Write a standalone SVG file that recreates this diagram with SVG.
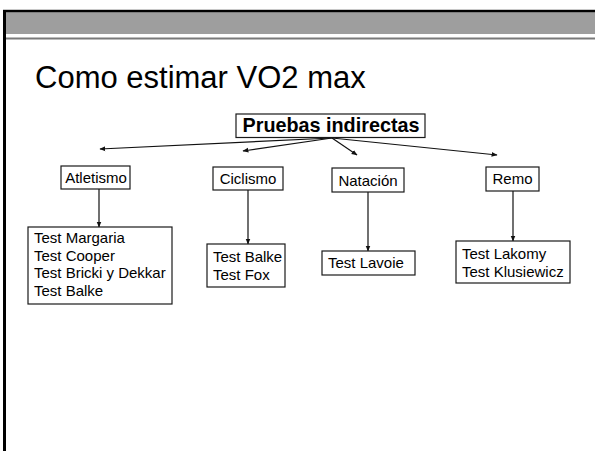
<svg xmlns="http://www.w3.org/2000/svg" width="595" height="451" viewBox="0 0 595 451">
  <style>
    text { font-family: "Liberation Sans", Arial, sans-serif; fill: #000; }
    .box { fill: #fff; stroke: #1a1a1a; stroke-width: 1.2; }
    .lbl { font-size: 15px; }
    .ctr { text-anchor: middle; }
    .edge { stroke: #111; stroke-width: 1.2; fill: none; marker-end: url(#arrow); }
  </style>
  <defs>
    <marker id="arrow" viewBox="0 0 10 10" refX="9" refY="5" markerWidth="6" markerHeight="6" markerUnits="userSpaceOnUse" orient="auto">
      <path d="M0,1 L10,5 L0,9 z" fill="#111"/>
    </marker>
  </defs>

  <!-- slide frame -->
  <rect x="0" y="0" width="595" height="451" fill="#fff"/>
  <rect x="3" y="9" width="592" height="1" fill="#c8c8c8"/>
  <rect x="3" y="12" width="592" height="22" fill="#9e9e9e"/>
  <rect x="3" y="10" width="592" height="2.2" fill="#000"/>
  <rect x="6" y="37.5" width="589" height="2" fill="#7a7a7a"/>
  <rect x="3" y="10" width="3" height="441" fill="#000"/>

  <text x="35" y="88" font-size="31">Como estimar VO2 max</text>

  <!-- connectors -->
  <g id="connectors">
    <line class="edge" x1="332" y1="138" x2="100" y2="149"/>
    <line class="edge" x1="332" y1="138" x2="243" y2="151"/>
    <line class="edge" x1="332" y1="138" x2="357" y2="155"/>
    <line class="edge" x1="332" y1="138" x2="497" y2="155"/>
    <line class="edge" x1="99" y1="189" x2="99" y2="227"/>
    <line class="edge" x1="248" y1="190" x2="248" y2="244"/>
    <line class="edge" x1="368" y1="192" x2="368" y2="251"/>
    <line class="edge" x1="513" y1="191" x2="513" y2="241"/>
  </g>

  <g id="pruebas">
    <rect class="box" x="236" y="114" width="189" height="23.5"/>
    <text class="ctr" x="331" y="132" font-size="19.8" font-weight="bold">Pruebas indirectas</text>
  </g>

  <g id="atletismo">
    <rect class="box" x="61" y="166" width="69" height="23"/>
    <text class="lbl ctr" x="96" y="183">Atletismo</text>
  </g>
  <g id="ciclismo">
    <rect class="box" x="213" y="167" width="70" height="23"/>
    <text class="lbl ctr" x="248" y="184">Ciclismo</text>
  </g>
  <g id="natacion">
    <rect class="box" x="332" y="168" width="72" height="24"/>
    <text class="lbl ctr" x="368" y="185.5">Natación</text>
  </g>
  <g id="remo">
    <rect class="box" x="486" y="167" width="53" height="24"/>
    <text class="lbl ctr" x="512.5" y="184">Remo</text>
  </g>

  <g id="tests-atletismo">
    <rect class="box" x="28" y="227" width="144" height="77"/>
    <text class="lbl" x="34" y="243">Test Margaria</text>
    <text class="lbl" x="34" y="260.5">Test Cooper</text>
    <text class="lbl" x="34" y="278">Test Bricki y Dekkar</text>
    <text class="lbl" x="34" y="295.5">Test Balke</text>
  </g>
  <g id="tests-ciclismo">
    <rect class="box" x="207" y="244" width="78" height="43"/>
    <text class="lbl" x="213" y="262">Test Balke</text>
    <text class="lbl" x="213" y="280">Test Fox</text>
  </g>
  <g id="tests-natacion">
    <rect class="box" x="322" y="251" width="93" height="24"/>
    <text class="lbl" x="328" y="268">Test Lavoie</text>
  </g>
  <g id="tests-remo">
    <rect class="box" x="456" y="241" width="114" height="42"/>
    <text class="lbl" x="462" y="259">Test Lakomy</text>
    <text class="lbl" x="462" y="277">Test Klusiewicz</text>
  </g>
</svg>
